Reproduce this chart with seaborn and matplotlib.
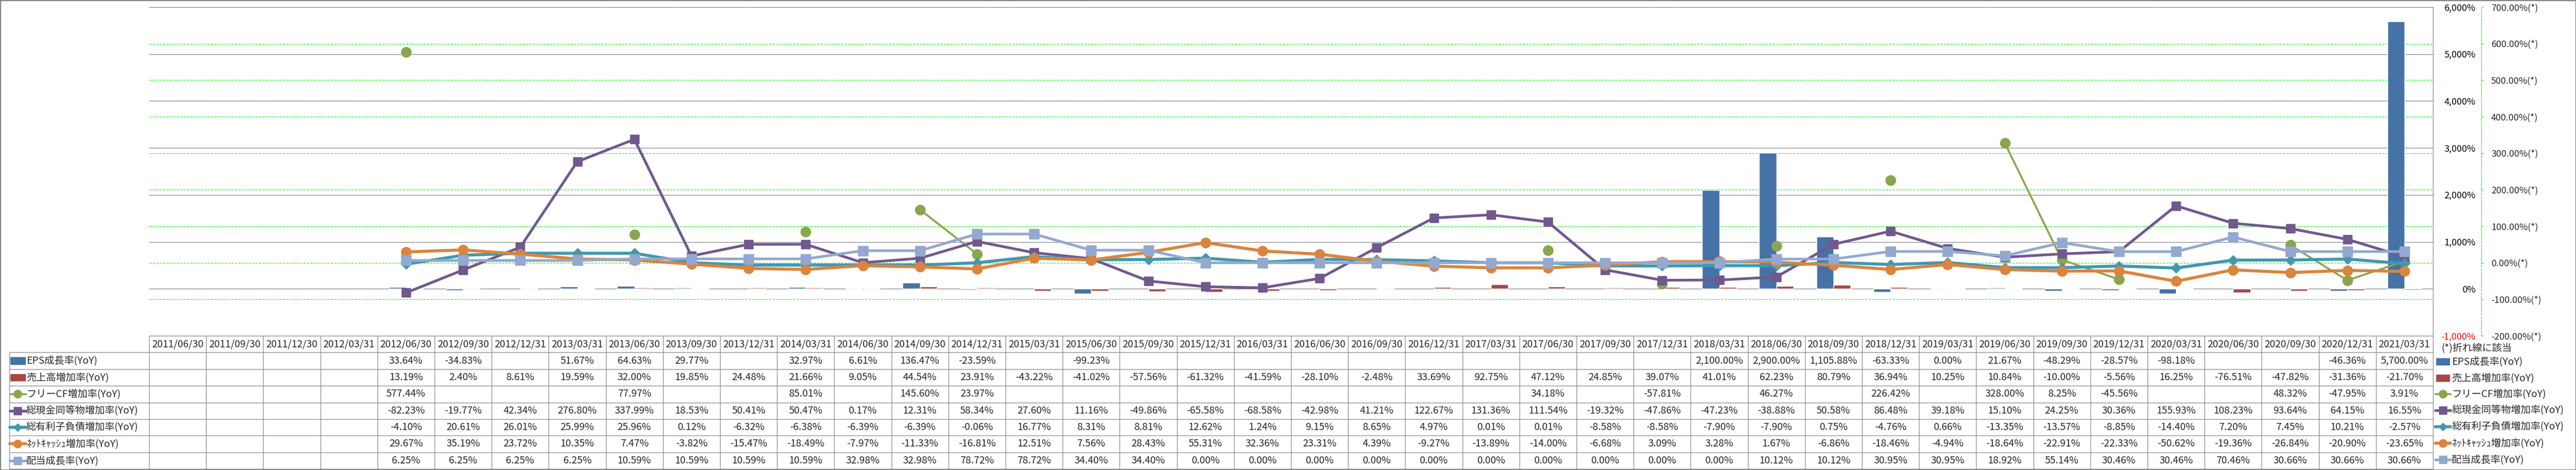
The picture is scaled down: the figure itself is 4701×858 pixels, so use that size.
import numpy as np
import pandas as pd
import seaborn as sns
import matplotlib.pyplot as plt
from matplotlib.patches import Rectangle

nan = np.nan

# ---- データ ----
dates = [
    "2011/06/30", "2011/09/30", "2011/12/30", "2012/03/31", "2012/06/30", "2012/09/30",
    "2012/12/31", "2013/03/31", "2013/06/30", "2013/09/30", "2013/12/31", "2014/03/31",
    "2014/06/30", "2014/09/30", "2014/12/31", "2015/03/31", "2015/06/30", "2015/09/30",
    "2015/12/31", "2016/03/31", "2016/06/30", "2016/09/30", "2016/12/31", "2017/03/31",
    "2017/06/30", "2017/09/30", "2017/12/31", "2018/03/31", "2018/06/30", "2018/09/30",
    "2018/12/31", "2019/03/31", "2019/06/30", "2019/09/30", "2019/12/31", "2020/03/31",
    "2020/06/30", "2020/09/30", "2020/12/31", "2021/03/31",
]

eps = [nan, nan, nan, nan, 33.64, -34.83, nan, 51.67, 64.63, 29.77, nan, 32.97,
       6.61, 136.47, -23.59, nan, -99.23, nan, nan, nan, nan, nan, nan, nan,
       nan, nan, nan, 2100.00, 2900.00, 1105.88, -63.33, 0.00, 21.67, -48.29, -28.57, -98.18,
       nan, nan, -46.36, 5700.00]

sales = [nan, nan, nan, nan, 13.19, 2.40, 8.61, 19.59, 32.00, 19.85, 24.48, 21.66,
         9.05, 44.54, 23.91, -43.22, -41.02, -57.56, -61.32, -41.59, -28.10, -2.48, 33.69, 92.75,
         47.12, 24.85, 39.07, 41.01, 62.23, 80.79, 36.94, 10.25, 10.84, -10.00, -5.56, 16.25,
         -76.51, -47.82, -31.36, -21.70]

fcf = [nan, nan, nan, nan, 577.44, nan, nan, nan, 77.97, nan, nan, 85.01,
       nan, 145.60, 23.97, nan, nan, nan, nan, nan, nan, nan, nan, nan,
       34.18, nan, -57.81, nan, 46.27, nan, 226.42, nan, 328.00, 8.25, -45.56, nan,
       nan, 48.32, -47.95, 3.91]

cash = [nan, nan, nan, nan, -82.23, -19.77, 42.34, 276.80, 337.99, 18.53, 50.41, 50.47,
        0.17, 12.31, 58.34, 27.60, 11.16, -49.86, -65.58, -68.58, -42.98, 41.21, 122.67, 131.36,
        111.54, -19.32, -47.86, -47.23, -38.88, 50.58, 86.48, 39.18, 15.10, 24.25, 30.36, 155.93,
        108.23, 93.64, 64.15, 16.55]

debt = [nan, nan, nan, nan, -4.10, 20.61, 26.01, 25.99, 25.96, 0.12, -6.32, -6.38,
        -6.39, -6.39, -0.06, 16.77, 8.31, 8.81, 12.62, 1.24, 9.15, 8.65, 4.97, 0.01,
        0.01, -8.58, -8.58, -7.90, -7.90, 0.75, -4.76, 0.66, -13.35, -13.57, -8.85, -14.40,
        7.20, 7.45, 10.21, -2.57]

netcash = [nan, nan, nan, nan, 29.67, 35.19, 23.72, 10.35, 7.47, -3.82, -15.47, -18.49,
           -7.97, -11.33, -16.81, 12.51, 7.56, 28.43, 55.31, 32.36, 23.31, 4.39, -9.27, -13.89,
           -14.00, -6.68, 3.09, 3.28, 1.67, -6.86, -18.46, -4.94, -18.64, -22.91, -22.33, -50.62,
           -19.36, -26.84, -20.90, -23.65]

dividend = [nan, nan, nan, nan, 6.25, 6.25, 6.25, 6.25, 10.59, 10.59, 10.59, 10.59,
            32.98, 32.98, 78.72, 78.72, 34.40, 34.40, 0.00, 0.00, 0.00, 0.00, 0.00, 0.00,
            0.00, 0.00, 0.00, 0.00, 10.12, 10.12, 30.95, 30.95, 18.92, 55.14, 30.46, 30.46,
            70.46, 30.66, 30.66, 30.66]

bar_names = ["EPS成長率(YoY)", "売上高増加率(YoY)"]
bar_colors = ["#4572A7", "#AA4643"]

# 名前, 値, 色, マーカー, マーカーサイズ, 線幅
line_specs = [
    ("フリーCF増加率(YoY)", fcf, "#89A54E", "o", 13, 2.5),
    ("総現金同等物増加率(YoY)", cash, "#71588F", "s", 12, 3.5),
    ("総有利子負債増加率(YoY)", debt, "#4198AF", "D", 9.5, 4.0),
    ("ﾈｯﾄｷｬｯｼｭ増加率(YoY)", netcash, "#DB843D", "o", 13, 4.0),
    ("配当成長率(YoY)", dividend, "#93A9CF", "s", 12.5, 3.5),
]

left_ticks = list(range(-1000, 6001, 1000))
right_ticks = list(range(-200, 701, 100))

# ---- レイアウト（ピクセル） ----
W, H, DPI = 4701, 858, 100
PX_L, PX_R, PX_T, PX_B = 272, 4440, 13, 613
TB_L, TB_B = 17, 856
GRAY = "#868686"
GREEN = "#00FF00"
FS = 13
DASH = (0, (3, 1.5))

sns.set_style("white")
plt.rcParams["font.family"] = ["Noto Sans CJK JP", "DejaVu Sans"]
plt.rcParams["lines.scale_dashes"] = False
plt.rcParams["axes.unicode_minus"] = False


def box(x0, y0, x1, y1):
    return [x0 / W, 1 - y1 / H, (x1 - x0) / W, (y1 - y0) / H]


fig = plt.figure(figsize=(W / DPI, H / DPI), dpi=DPI)
fig.patch.set_facecolor("white")
fig.patch.set_edgecolor(GRAY)
fig.patch.set_linewidth(2)

ax = fig.add_axes(box(PX_L, PX_T, PX_R, PX_B))
axg = ax.twinx()   # 第2軸のグリッド用
ax2 = ax.twinx()   # 折れ線用
axg.set_zorder(0)
ax.set_zorder(1)
ax2.set_zorder(2)
ax.patch.set_visible(False)

# 棒グラフ（第1軸）
bar_df = pd.DataFrame({
    "date": dates * 2,
    "series": [bar_names[0]] * len(dates) + [bar_names[1]] * len(dates),
    "value": eps + sales,
})
sns.barplot(data=bar_df, x="date", y="value", hue="series", order=dates,
            hue_order=bar_names, palette=bar_colors, width=0.6, saturation=1,
            errorbar=None, legend=False, ax=ax, zorder=3)

ax.set_xlim(-0.5, len(dates) - 0.5)
ax.set_ylim(-1000, 6000)
ax.set_xlabel("")
ax.set_ylabel("")
ax.tick_params(axis="x", length=0, labelbottom=False)
ax.set_axisbelow(True)
ax.grid(axis="y", color=GRAY, lw=0.8)
ax.grid(axis="x", visible=False)
ax.yaxis.tick_right()
ax.set_yticks(left_ticks)
ax.set_yticklabels([f"{v:,}%" for v in left_ticks])
ax.tick_params(axis="y", length=0, pad=56, labelsize=12)
for lbl, v in zip(ax.get_yticklabels(), left_ticks):
    lbl.set_ha("right")
    lbl.set_color("red" if v < 0 else "black")
for s in ["left", "top", "bottom"]:
    ax.spines[s].set_visible(False)
ax.spines["right"].set_color(GRAY)
ax.spines["right"].set_linewidth(0.8)

# 第2軸グリッド
axg.set_ylim(-200, 700)
axg.set_yticks(right_ticks)
axg.grid(axis="y", color=GREEN, lw=0.75, linestyle=DASH)
axg.grid(axis="x", visible=False)
axg.tick_params(axis="y", left=False, right=False, labelleft=False, labelright=False)
for s in axg.spines.values():
    s.set_visible(False)

# 折れ線（第2軸）
x = np.arange(len(dates))
for name, vals, color, mk, ms, lw in line_specs:
    ax2.plot(x, vals, color=color, lw=lw, marker=mk, ms=ms,
             markeredgecolor=color, label=name, zorder=4)

ax2.set_ylim(-200, 700)
ax2.set_yticks(right_ticks)
ax2.set_yticklabels([f"{v:.2f}%(*)" for v in right_ticks])
ax2.tick_params(axis="y", length=3, color=GREEN, pad=10, labelsize=12)
for lbl, v in zip(ax2.get_yticklabels(), right_ticks):
    lbl.set_color("red" if v < 0 else "black")
ax2.grid(False)
for s in ["left", "top", "bottom"]:
    ax2.spines[s].set_visible(False)
ax2.spines["right"].set_position(("outward", 88 * 72 / DPI))
ax2.spines["right"].set_color(GREEN)
ax2.spines["right"].set_linestyle(DASH)
ax2.spines["right"].set_linewidth(0.75)

# ---- データテーブル ----
col_px = (PX_R - PX_L) / len(dates)


def tx_x(px):
    return -0.5 + (px - PX_L) / col_px


tx = fig.add_axes(box(TB_L, PX_B, PX_R, TB_B))
n_rows = 1 + len(bar_names) + len(line_specs)
tx.set_xlim(tx_x(TB_L), len(dates) - 0.5)
tx.set_ylim(0, n_rows)
tx.axis("off")

line_kw = dict(color=GRAY, lw=0.8, clip_on=False)
tx.hlines(n_rows, -0.5, len(dates) - 0.5, **line_kw)
tx.hlines(range(n_rows), tx_x(TB_L), len(dates) - 0.5, **line_kw)
tx.vlines(np.arange(-0.5, len(dates)), 0, n_rows, **line_kw)
tx.vlines(tx_x(TB_L), 0, n_rows - 1, **line_kw)

for i, d in enumerate(dates):
    tx.text(i, n_rows - 0.5, d, ha="center", va="center", fontsize=FS)

rows = list(zip(bar_names, [eps, sales])) + [(s[0], s[1]) for s in line_specs]
for r, (name, vals) in enumerate(rows):
    y = n_rows - 1.5 - r
    for i, v in enumerate(vals):
        if not np.isnan(v):
            tx.text(i, y, f"{v:,.2f}%", ha="center", va="center", fontsize=FS)
    tx.text(tx_x(48), y, name, ha="left", va="center", fontsize=FS)

# 表内の凡例キー
for r, color in enumerate(bar_colors):
    y = n_rows - 1.5 - r
    tx.add_patch(Rectangle((tx_x(19), y - 0.2), tx_x(46) - tx_x(19), 0.4,
                           color=color, clip_on=False))
for k, (name, vals, color, mk, ms, lw) in enumerate(line_specs):
    y = n_rows - 1.5 - (len(bar_names) + k)
    tx.plot([tx_x(18), tx_x(47)], [y, y], color=color, lw=lw, clip_on=False)
    tx.plot([tx_x(32.5)], [y], marker=mk, ms=ms * 0.8, color=color, clip_on=False)

# ---- 右側の凡例（ピクセル座標の軸） ----
lx = fig.add_axes(box(PX_R, PX_B, W, H))
lx.set_xlim(PX_R, W)
lx.set_ylim(H, PX_B)
lx.axis("off")
lx.text(4455, 635, "(*)折れ線に該当", ha="left", va="center", fontsize=FS)
legend_y = [660, 690, 719, 749, 779, 809, 839]
for yc, name, color in zip(legend_y, bar_names, bar_colors):
    lx.add_patch(Rectangle((4446, yc - 6), 24, 12, color=color))
    lx.text(4474, yc, name, ha="left", va="center", fontsize=FS)
for yc, (name, vals, color, mk, ms, lw) in zip(legend_y[2:], line_specs):
    lx.plot([4444, 4472], [yc, yc], color=color, lw=lw)
    lx.plot([4458], [yc], marker=mk, ms=ms * 0.8, color=color)
    lx.text(4474, yc, name, ha="left", va="center", fontsize=FS)

fig.savefig("out.png", dpi=DPI)
